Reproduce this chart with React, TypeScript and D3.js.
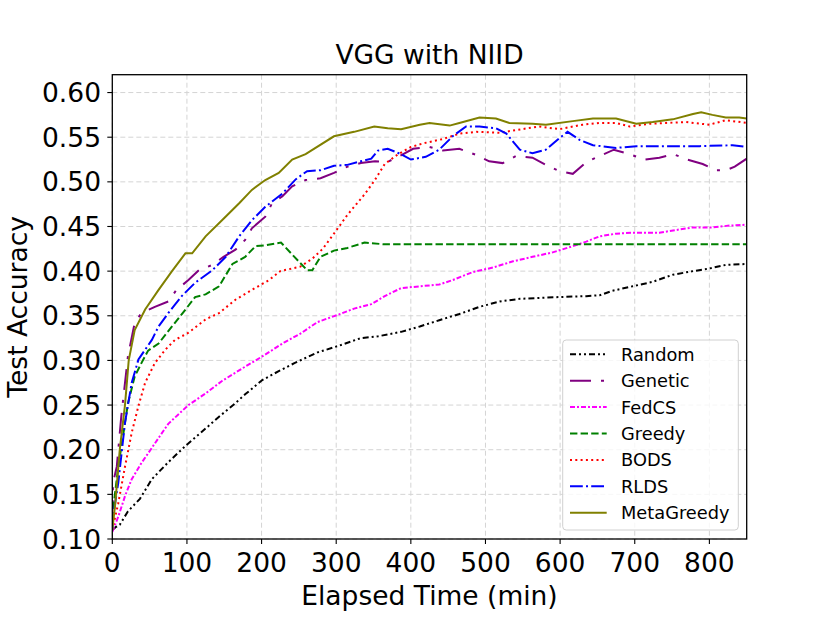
import * as d3 from "d3";

type Pt = [number, number];

// elapsed time (min), test accuracy
const randomPts: Pt[] = [
  [0, 0.11], [4, 0.113], [10, 0.116], [21, 0.131], [37, 0.145], [53, 0.167], [75, 0.186],
  [99, 0.205], [120, 0.22], [143, 0.237], [162, 0.25], [178, 0.262], [201, 0.278], [223, 0.288],
  [244, 0.297], [275, 0.309], [302, 0.316], [333, 0.325], [356, 0.327], [387, 0.332], [412, 0.338],
  [438, 0.345], [465, 0.352], [492, 0.36], [519, 0.366], [546, 0.369], [572, 0.37], [599, 0.371],
  [635, 0.372], [653, 0.373], [670, 0.378], [697, 0.383], [724, 0.388], [751, 0.396], [778, 0.4],
  [800, 0.403], [822, 0.407], [850, 0.408],
];

const geneticPts: Pt[] = [
  [0, 0.12], [1, 0.163], [6, 0.181], [12, 0.237], [21, 0.305], [30, 0.342], [39, 0.353],
  [44, 0.355], [57, 0.36], [75, 0.366], [86, 0.379], [102, 0.39], [116, 0.401], [134, 0.407],
  [149, 0.416], [165, 0.424], [178, 0.435], [187, 0.448], [205, 0.461], [214, 0.476], [228, 0.484],
  [241, 0.495], [259, 0.502], [279, 0.504], [297, 0.51], [315, 0.517], [333, 0.521], [352, 0.523],
  [368, 0.522], [385, 0.529], [403, 0.537], [425, 0.539], [443, 0.535], [465, 0.537], [488, 0.53],
  [505, 0.523], [523, 0.521], [541, 0.529], [563, 0.527], [581, 0.519], [599, 0.512], [617, 0.509],
  [635, 0.522], [653, 0.529], [672, 0.536], [693, 0.531], [713, 0.525], [733, 0.527], [752, 0.531],
  [770, 0.525], [791, 0.52], [809, 0.513], [822, 0.513], [834, 0.517], [850, 0.526],
];

const fedcsPts: Pt[] = [
  [0, 0.108], [1, 0.11], [8, 0.125], [17, 0.148], [26, 0.167], [39, 0.185], [57, 0.207],
  [75, 0.229], [102, 0.25], [125, 0.263], [147, 0.277], [174, 0.291], [200, 0.304], [230, 0.32],
  [252, 0.33], [275, 0.343], [302, 0.351], [324, 0.358], [347, 0.363], [365, 0.372], [387, 0.381],
  [412, 0.383], [438, 0.385], [456, 0.39], [483, 0.399], [510, 0.404], [537, 0.411], [563, 0.416],
  [590, 0.421], [617, 0.428], [635, 0.433], [653, 0.439], [675, 0.442], [697, 0.443], [733, 0.443],
  [755, 0.446], [778, 0.449], [804, 0.449], [827, 0.451], [850, 0.452],
];

const greedyPts: Pt[] = [
  [0, 0.11], [1, 0.133], [8, 0.181], [15, 0.219], [21, 0.252], [30, 0.282], [39, 0.297],
  [48, 0.311], [62, 0.319], [80, 0.338], [98, 0.357], [111, 0.371], [125, 0.374], [143, 0.383],
  [161, 0.408], [178, 0.416], [192, 0.428], [205, 0.429], [226, 0.432], [244, 0.416], [261, 0.401],
  [268, 0.401], [279, 0.416], [297, 0.423], [315, 0.426], [338, 0.432], [365, 0.43], [420, 0.43],
  [850, 0.43],
];

const bodsPts: Pt[] = [
  [0, 0.11], [1, 0.114], [8, 0.14], [17, 0.181], [26, 0.219], [35, 0.249], [44, 0.275],
  [57, 0.297], [71, 0.312], [84, 0.323], [102, 0.331], [125, 0.346], [143, 0.353], [165, 0.368],
  [187, 0.379], [210, 0.39], [225, 0.4], [252, 0.405], [268, 0.414], [282, 0.425], [297, 0.442],
  [315, 0.463], [338, 0.486], [351, 0.501], [365, 0.52], [383, 0.531], [400, 0.539], [416, 0.543],
  [443, 0.548], [465, 0.554], [488, 0.556], [519, 0.555], [541, 0.558], [572, 0.562], [599, 0.559],
  [630, 0.564], [653, 0.566], [675, 0.566], [693, 0.562], [720, 0.565], [742, 0.566], [768, 0.567],
  [800, 0.564], [822, 0.569], [850, 0.566],
];

const rldsPts: Pt[] = [
  [0, 0.11], [1, 0.125], [8, 0.163], [17, 0.23], [26, 0.275], [35, 0.301], [44, 0.312],
  [53, 0.323], [62, 0.338], [75, 0.353], [93, 0.372], [111, 0.387], [134, 0.401], [152, 0.416],
  [170, 0.439], [187, 0.457], [205, 0.472], [228, 0.487], [246, 0.503], [261, 0.512], [279, 0.513],
  [297, 0.518], [315, 0.519], [333, 0.523], [347, 0.526], [356, 0.535], [369, 0.537], [387, 0.531],
  [400, 0.525], [420, 0.528], [438, 0.536], [456, 0.551], [474, 0.562], [492, 0.562], [514, 0.56],
  [528, 0.554], [546, 0.536], [563, 0.532], [581, 0.536], [599, 0.549], [610, 0.556], [626, 0.547],
  [644, 0.541], [675, 0.538], [702, 0.54], [742, 0.54], [787, 0.54], [831, 0.541], [850, 0.539],
];

const metaGreedyPts: Pt[] = [
  [0, 0.11], [4, 0.14], [10, 0.2], [17, 0.25], [22, 0.3], [30, 0.334], [44, 0.357], [62, 0.379],
  [80, 0.4], [98, 0.42], [107, 0.42], [125, 0.439], [147, 0.457], [170, 0.476], [187, 0.491],
  [205, 0.502], [223, 0.51], [241, 0.525], [259, 0.531], [297, 0.551], [324, 0.556], [351, 0.562],
  [369, 0.56], [387, 0.559], [412, 0.564], [425, 0.566], [452, 0.563], [465, 0.566], [492, 0.572],
  [514, 0.571], [532, 0.566], [563, 0.565], [581, 0.564], [617, 0.568], [644, 0.571], [675, 0.571],
  [702, 0.565], [724, 0.567], [751, 0.57], [778, 0.576], [789, 0.578], [804, 0.575], [822, 0.572],
  [840, 0.572], [850, 0.571],
];

const seriesNames = ["Random", "Genetic", "FedCS", "Greedy", "BODS", "RLDS", "MetaGreedy"];
const seriesData = [randomPts, geneticPts, fedcsPts, greedyPts, bodsPts, rldsPts, metaGreedyPts];
const seriesColors = ["#000000", "#800080", "#ff00ff", "#008000", "#ff0000", "#0000ff", "#808000"];
const seriesDashes = ["6,3,2,3,2,3", "21,10,3,10", "5,2,2,2", "7.4,3.2", "2,3.3", "12.8,3.2,2,3.2", ""];

const xTicks = [0, 100, 200, 300, 400, 500, 600, 700, 800];
const yTicks = [0.1, 0.15, 0.2, 0.25, 0.3, 0.35, 0.4, 0.45, 0.5, 0.55, 0.6];

const W = 830;
const H = 623;
const left = 112.3;
const right = 746.7;
const top = 74.7;
const bottom = 539;
const font = "DejaVu Sans, sans-serif";
const fs = 26.5;

export default function App() {
  const x = d3.scaleLinear().domain([0, 850]).range([left, right]);
  const y = d3.scaleLinear().domain([0.1, 0.62]).range([bottom, top]);
  const line = d3
    .line<Pt>()
    .x((d) => x(d[0]))
    .y((d) => y(d[1]));

  const legX = 562.7;
  const legY = 340;
  const rowH = 26.4;

  return (
    <svg
      width={W}
      height={H}
      style={{ position: "absolute", left: 0, top: 0, background: "#fff" }}
      fontFamily={font}
    >
      <defs>
        <clipPath id="plot">
          <rect x={left} y={top} width={right - left} height={bottom - top} />
        </clipPath>
      </defs>
      <rect width={W} height={H} fill="#fff" />

      {/* grid */}
      {xTicks.map((t) => (
        <line key={"gx" + t} x1={x(t)} x2={x(t)} y1={top} y2={bottom}
          stroke="#d4d4d4" strokeWidth={1} strokeDasharray="5,3" />
      ))}
      {yTicks.map((t) => (
        <line key={"gy" + t} x1={left} x2={right} y1={y(t)} y2={y(t)}
          stroke="#d4d4d4" strokeWidth={1} strokeDasharray="5,3" />
      ))}

      {/* lines */}
      <g clipPath="url(#plot)">
        {seriesData.map((pts, i) => (
          <path key={seriesNames[i]} d={line(pts) || ""} fill="none"
            stroke={seriesColors[i]} strokeWidth={2}
            strokeDasharray={seriesDashes[i] || undefined} />
        ))}
      </g>

      {/* spines */}
      <rect x={left} y={top} width={right - left} height={bottom - top}
        fill="none" stroke="#000" strokeWidth={1.3} />

      {/* ticks */}
      {xTicks.map((t) => (
        <g key={"tx" + t}>
          <line x1={x(t)} x2={x(t)} y1={bottom} y2={bottom + 5} stroke="#000" strokeWidth={1.1} />
          <text x={x(t)} y={571.5} textAnchor="middle" fontSize={fs}>{t}</text>
        </g>
      ))}
      {yTicks.map((t) => (
        <g key={"ty" + t}>
          <line x1={left - 5} x2={left} y1={y(t)} y2={y(t)} stroke="#000" strokeWidth={1.1} />
          <text x={101} y={y(t)} dy="0.36em" textAnchor="end" fontSize={fs}>{t.toFixed(2)}</text>
        </g>
      ))}

      {/* titles */}
      <text x={(left + right) / 2} y={64.3} textAnchor="middle" fontSize={fs}>VGG with NIID</text>
      <text x={(left + right) / 2} y={605} textAnchor="middle" fontSize={fs}>Elapsed Time (min)</text>
      <text transform={`translate(27,${(top + bottom) / 2}) rotate(-90)`} textAnchor="middle" fontSize={fs}>
        Test Accuracy
      </text>

      {/* legend */}
      <rect x={legX} y={legY} width={175.6} height={190} rx={3.5}
        fill="#fff" fillOpacity={0.8} stroke="#d0d0d0" strokeWidth={1} />
      {seriesNames.map((name, i) => {
        const cy = 354.3 + i * rowH;
        return (
          <g key={"leg" + name}>
            <line x1={570} x2={606.7} y1={cy} y2={cy} stroke={seriesColors[i]} strokeWidth={2}
              strokeDasharray={seriesDashes[i] || undefined} />
            <text x={621} y={cy} dy="0.36em" fontSize={17.8}>{name}</text>
          </g>
        );
      })}
    </svg>
  );
}
